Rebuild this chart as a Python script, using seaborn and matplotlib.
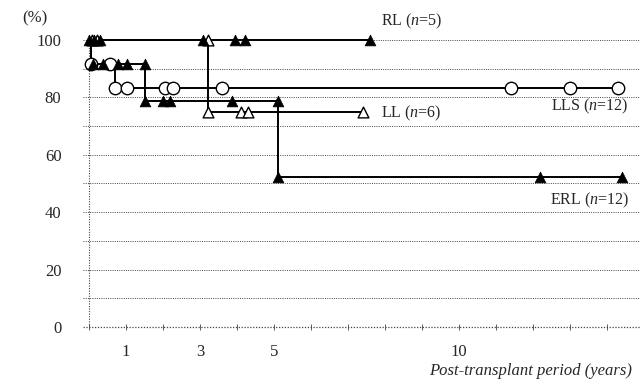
import matplotlib
matplotlib.use("Agg")
import matplotlib.pyplot as plt
import seaborn as sns
import pandas as pd

# step curves: time (years) and survival (%) after each step
rl_t = [0, 7.6]
rl_s = [100, 100]
ll_t = [0, 3.22, 7.4]
ll_s = [100, 75, 75]
lls_t = [0, 0.06, 0.7, 14.3]
lls_s = [100, 91.7, 83.3, 83.3]
erl_t = [0, 0.06, 1.51, 5.1, 14.4]
erl_s = [100, 91.7, 78.6, 52.4, 52.4]

# censor marks
rl_ct = [0.0, 0.15, 0.3, 3.08, 3.95, 4.22, 7.6]
rl_cs = [100, 100, 100, 100, 100, 100, 100]
ll_ct = [0.08, 0.22, 3.22, 3.22, 4.1, 4.3, 7.4]
ll_cs = [100, 100, 100, 75, 75, 75, 75]
lls_ct = [0.05, 0.57, 0.7, 1.03, 2.05, 2.27, 3.6, 11.4, 13.0, 14.3]
lls_cs = [91.7, 91.7, 83.3, 83.3, 83.3, 83.3, 83.3, 83.3, 83.3, 83.3]
erl_ct = [0.11, 0.38, 0.78, 1.02, 1.51, 1.51, 2.0, 2.2, 3.86, 5.1, 5.1, 12.2, 14.4]
erl_cs = [91.7, 91.7, 91.7, 91.7, 91.7, 78.6, 78.6, 78.6, 78.6, 78.6, 52.4, 52.4, 52.4]

group_labels = ["RL", "LL", "LLS", "ERL"]
x_tick_labels = [1, 3, 5, 10]

sns.set_style("white")
plt.rcParams['font.family'] = ['Liberation Serif', 'DejaVu Serif']
plt.rcParams['mathtext.fontset'] = 'custom'
plt.rcParams['mathtext.rm'] = 'Liberation Serif'
plt.rcParams['mathtext.it'] = 'Liberation Serif:italic'

fig = plt.figure(figsize=(6.41, 3.83), dpi=100)
ax = fig.add_axes([83 / 641, 1 - 327 / 383, 557 / 641, 292 / 383])

curves = pd.concat([
    pd.DataFrame({"t": rl_t, "s": rl_s, "g": "RL"}),
    pd.DataFrame({"t": ll_t, "s": ll_s, "g": "LL"}),
    pd.DataFrame({"t": lls_t, "s": lls_s, "g": "LLS"}),
    pd.DataFrame({"t": erl_t, "s": erl_s, "g": "ERL"}),
])
for g in group_labels:
    sns.lineplot(data=curves[curves.g == g], x="t", y="s", estimator=None,
                 drawstyle="steps-post", color="black", lw=1.4, ax=ax,
                 zorder=3, clip_on=False)

# censor markers
sns.scatterplot(x=lls_ct, y=lls_cs, marker="o", s=80, facecolor="white",
                edgecolor="black", linewidth=1.0, ax=ax, zorder=4, clip_on=False)
sns.scatterplot(x=ll_ct, y=ll_cs, marker="^", s=60, facecolor="white",
                edgecolor="black", linewidth=1.0, ax=ax, zorder=5, clip_on=False)
sns.scatterplot(x=rl_ct, y=rl_cs, marker="^", s=60, color="black",
                edgecolor="black", linewidth=0.5, ax=ax, zorder=6, clip_on=False)
sns.scatterplot(x=erl_ct, y=erl_cs, marker="^", s=60, color="black",
                edgecolor="black", linewidth=0.5, ax=ax, zorder=6, clip_on=False)

ax.set_xlim(-0.16, 14.9)
ax.set_ylim(0, 101.7)
ax.set_yticks(range(0, 101, 20))
ax.set_yticks(range(0, 101, 10), minor=True)
ax.set_xticks(x_tick_labels)
ax.set_xticklabels([str(v) for v in x_tick_labels])
ax.set_xticks(range(0, 15), minor=True)
ax.grid(True, which="both", axis="y", color="#444444", linestyle=(0, (1, 1.3)), lw=0.7)
ax.grid(False, axis="x")
ax.tick_params(axis="x", which="both", bottom=True, direction="inout", length=4,
               width=0.6, color="#444444", pad=10, labelsize=12)
ax.tick_params(axis="y", which="both", left=False, pad=12, labelsize=12)
for side in ["top", "right", "bottom", "left"]:
    ax.spines[side].set_visible(False)
ax.axvline(0, color="#444444", linestyle=(0, (1, 1.3)), lw=0.8, zorder=1)
ax.axhline(0, color="#444444", linestyle=(0, (1, 1.3)), lw=0.9, zorder=1, clip_on=False)
ax.set_xlabel("")
ax.set_ylabel("")

# curve labels
ax.text(7.9, 103, "RL ($\\it{n}$=5)", fontsize=11.5, va="bottom", ha="left")
ax.text(7.9, 74.5, "LL ($\\it{n}$=6)", fontsize=11.5, va="center", ha="left")
ax.text(14.6, 77, "LLS ($\\it{n}$=12)", fontsize=11.5, va="center", ha="right")
ax.text(14.6, 44, "ERL ($\\it{n}$=12)", fontsize=11.5, va="center", ha="right")

fig.text(22 / 641, 1 - 18 / 383, "(%)", fontsize=12, ha="left", va="center")
fig.text(632 / 641, 1 - 371 / 383, "Post-transplant period (years)", fontsize=12,
         style="italic", ha="right", va="center")

fig.savefig("out.png", dpi=100)
